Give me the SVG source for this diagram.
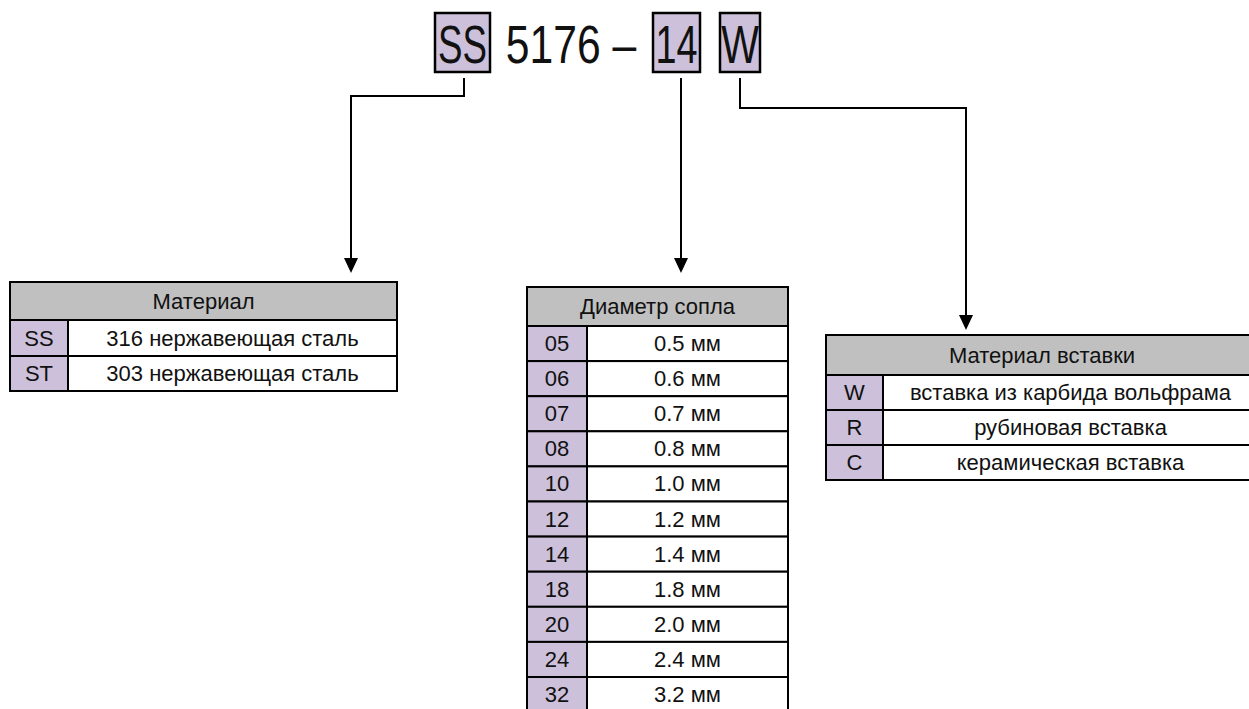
<svg xmlns="http://www.w3.org/2000/svg" width="1249" height="709" viewBox="0 0 1249 709">
<style>
text{font-family:"Liberation Sans",Arial,sans-serif;fill:#111;text-anchor:middle;dominant-baseline:central}
.code{font-size:54px}
.t{font-size:22px}
.h{font-size:22px}
.box{fill:#CCC0DA;stroke:#000;stroke-width:2.5}
.hdr{fill:#C0C0C0;stroke:#000;stroke-width:2}
.key{fill:#CCC0DA;stroke:#000;stroke-width:2}
.val{fill:#fff;stroke:#000;stroke-width:2}
.ln{fill:none;stroke:#000;stroke-width:2}
</style>
<rect width="1249" height="709" fill="#fff"/>
<g id="code">
<rect class="box" x="435" y="13" width="55" height="59"/>
<text class="code" transform="translate(462.5,44) scale(0.68,1)">SS</text>
<text class="code" transform="translate(571,44) scale(0.79,1)">5176 –</text>
<rect class="box" x="653" y="13" width="47" height="59"/>
<text class="code" transform="translate(676.5,44) scale(0.7,1)">14</text>
<rect class="box" x="720" y="13" width="40" height="59"/>
<text class="code" transform="translate(740,44) scale(0.74,1)">W</text>
</g>
<g id="connectors">
<path class="ln" d="M464,78 V96 H351 V259"/>
<path d="M344,258 L358,258 L351,273 Z" fill="#000"/>
<path class="ln" d="M681,78 V259"/>
<path d="M674,258 L688,258 L681,273 Z" fill="#000"/>
<path class="ln" d="M740,78 V108 H966 V316"/>
<path d="M959,315 L973,315 L966,330 Z" fill="#000"/>
</g>
<g id="material">
<rect class="hdr" x="10" y="282" width="387" height="38"/>
<text class="h" x="203.5" y="301">Материал</text>
<rect class="key" x="10" y="320" width="58" height="36"/>
<rect class="val" x="68" y="320" width="329" height="36"/>
<text class="t" x="39" y="338">SS</text>
<text class="t" x="232.5" y="338">316 нержавеющая сталь</text>
<rect class="key" x="10" y="356" width="58" height="35"/>
<rect class="val" x="68" y="356" width="329" height="35"/>
<text class="t" x="39" y="373.5">ST</text>
<text class="t" x="232.5" y="373.5">303 нержавеющая сталь</text>
</g>
<g id="diameter">
<rect class="hdr" x="527" y="287" width="261" height="39"/>
<text class="h" x="657.5" y="306.5">Диаметр сопла</text>
<g class="rows">
<rect class="key" x="527" y="326" width="60" height="35.1"/><rect class="val" x="587" y="326" width="201" height="35.1"/>
<text class="t" x="557" y="343.5">05</text><text class="t" x="687.5" y="343.5">0.5 мм</text>
<rect class="key" x="527" y="361.1" width="60" height="35.1"/><rect class="val" x="587" y="361.1" width="201" height="35.1"/>
<text class="t" x="557" y="378.6">06</text><text class="t" x="687.5" y="378.6">0.6 мм</text>
<rect class="key" x="527" y="396.2" width="60" height="35.1"/><rect class="val" x="587" y="396.2" width="201" height="35.1"/>
<text class="t" x="557" y="413.7">07</text><text class="t" x="687.5" y="413.7">0.7 мм</text>
<rect class="key" x="527" y="431.3" width="60" height="35.1"/><rect class="val" x="587" y="431.3" width="201" height="35.1"/>
<text class="t" x="557" y="448.8">08</text><text class="t" x="687.5" y="448.8">0.8 мм</text>
<rect class="key" x="527" y="466.4" width="60" height="35.1"/><rect class="val" x="587" y="466.4" width="201" height="35.1"/>
<text class="t" x="557" y="483.9">10</text><text class="t" x="687.5" y="483.9">1.0 мм</text>
<rect class="key" x="527" y="501.5" width="60" height="35.1"/><rect class="val" x="587" y="501.5" width="201" height="35.1"/>
<text class="t" x="557" y="519">12</text><text class="t" x="687.5" y="519">1.2 мм</text>
<rect class="key" x="527" y="536.6" width="60" height="35.1"/><rect class="val" x="587" y="536.6" width="201" height="35.1"/>
<text class="t" x="557" y="554.1">14</text><text class="t" x="687.5" y="554.1">1.4 мм</text>
<rect class="key" x="527" y="571.7" width="60" height="35.1"/><rect class="val" x="587" y="571.7" width="201" height="35.1"/>
<text class="t" x="557" y="589.2">18</text><text class="t" x="687.5" y="589.2">1.8 мм</text>
<rect class="key" x="527" y="606.8" width="60" height="35.1"/><rect class="val" x="587" y="606.8" width="201" height="35.1"/>
<text class="t" x="557" y="624.3">20</text><text class="t" x="687.5" y="624.3">2.0 мм</text>
<rect class="key" x="527" y="641.9" width="60" height="35.1"/><rect class="val" x="587" y="641.9" width="201" height="35.1"/>
<text class="t" x="557" y="659.4">24</text><text class="t" x="687.5" y="659.4">2.4 мм</text>
<rect class="key" x="527" y="677" width="60" height="35.1"/><rect class="val" x="587" y="677" width="201" height="35.1"/>
<text class="t" x="557" y="694.5">32</text><text class="t" x="687.5" y="694.5">3.2 мм</text>
</g>
</g>
<g id="insert">
<rect class="hdr" x="826" y="335" width="432" height="40"/>
<text class="h" x="1042" y="355">Материал вставки</text>
<rect class="key" x="826" y="375" width="57" height="35"/><rect class="val" x="883" y="375" width="375" height="35"/>
<text class="t" x="854.5" y="392.5">W</text><text class="t" x="1070.5" y="392.5">вставка из карбида вольфрама</text>
<rect class="key" x="826" y="410" width="57" height="35"/><rect class="val" x="883" y="410" width="375" height="35"/>
<text class="t" x="854.5" y="427.5">R</text><text class="t" x="1070.5" y="427.5">рубиновая вставка</text>
<rect class="key" x="826" y="445" width="57" height="35"/><rect class="val" x="883" y="445" width="375" height="35"/>
<text class="t" x="854.5" y="462.5">C</text><text class="t" x="1070.5" y="462.5">керамическая вставка</text>
</g>
</svg>
